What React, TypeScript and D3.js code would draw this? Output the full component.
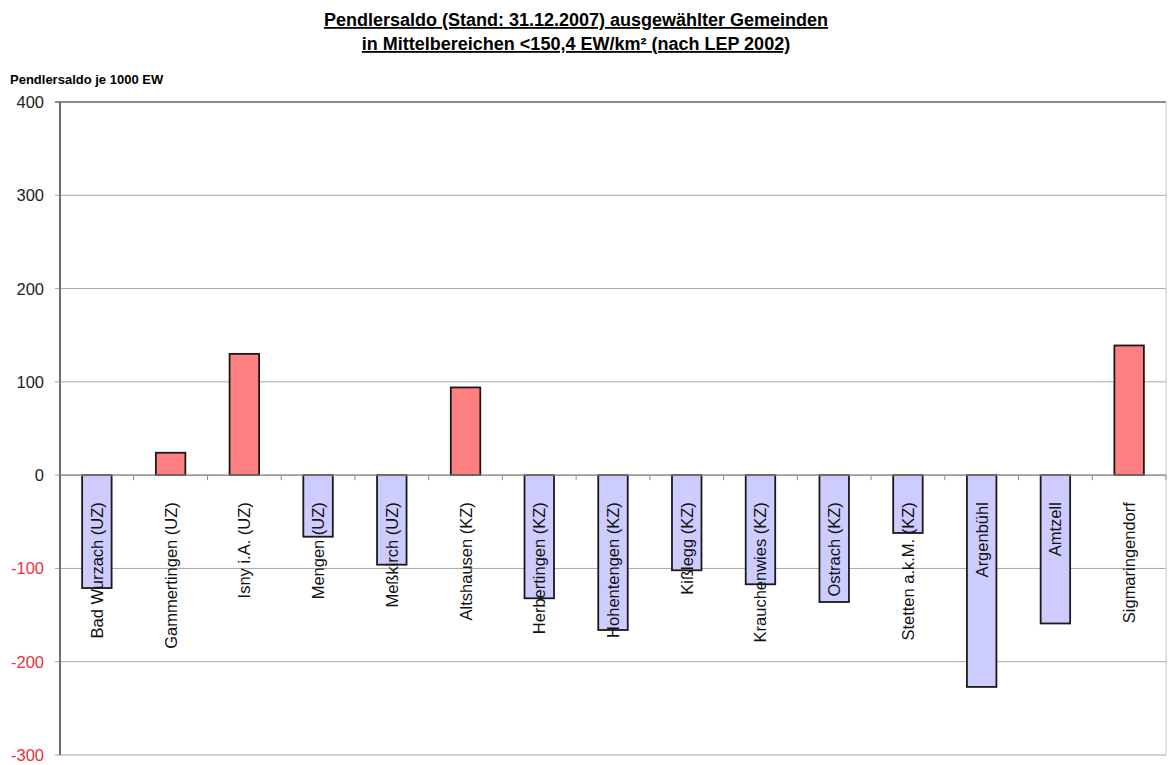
import React from "react";
import * as d3 from "d3";

const gemeinden = [
  "Bad Wurzach (UZ)",
  "Gammertingen (UZ)",
  "Isny i.A. (UZ)",
  "Mengen (UZ)",
  "Meßkirch (UZ)",
  "Altshausen (KZ)",
  "Herbertingen (KZ)",
  "Hohentengen (KZ)",
  "Kißlegg (KZ)",
  "Krauchenwies (KZ)",
  "Ostrach (KZ)",
  "Stetten a.k.M. (KZ)",
  "Argenbühl",
  "Amtzell",
  "Sigmaringendorf",
];

const pendlersaldo = [-121, 24, 130, -66, -96, 94, -132, -166, -102, -117, -136, -62, -227, -159, 139];

const yTicks = [400, 300, 200, 100, 0, -100, -200, -300];

const W = 1169;
const H = 765;
const plot = { left: 60, right: 1166, top: 102, bottom: 755 };
const font = "Arial, 'Liberation Sans', Helvetica, sans-serif";

export default function App() {
  const x = d3
    .scaleBand<string>()
    .domain(gemeinden)
    .range([plot.left, plot.right])
    .paddingInner(0.6)
    .paddingOuter(0.3);
  const step = x.step();
  const y = d3.scaleLinear().domain([-300, 400]).range([plot.bottom, plot.top]);
  const y0 = y(0);

  return (
    <svg
      width={W}
      height={H}
      style={{ position: "absolute", left: 0, top: 0, background: "#fff" }}
      fontFamily={font}
    >
      {/* title */}
      <g fontWeight="bold" fontSize={18} textAnchor="middle" textDecoration="underline">
        <text x={576} y={26}>Pendlersaldo (Stand: 31.12.2007) ausgewählter Gemeinden</text>
        <text x={576} y={50}>in Mittelbereichen &lt;150,4 EW/km² (nach LEP 2002)</text>
      </g>
      <text x={10} y={84} fontSize={13} fontWeight="bold">
        Pendlersaldo je 1000 EW
      </text>

      {/* gridlines */}
      {yTicks.map((t) => (
        <line
          key={"g" + t}
          x1={plot.left - 5}
          x2={plot.right}
          y1={y(t)}
          y2={y(t)}
          stroke={t === 400 ? "#8c8c8c" : "#a8a8a8"}
          strokeWidth={t === 400 ? 2 : 1}
        />
      ))}
      <line x1={plot.right} x2={plot.right} y1={plot.top} y2={plot.bottom} stroke="#c8c8c8" strokeWidth={1} />

      {/* y tick labels */}
      {yTicks.map((t) => (
        <text
          key={"t" + t}
          x={44}
          y={y(t) + 6}
          textAnchor="end"
          fontSize={16.5}
          fill={t < 0 ? "#e8323c" : "#222"}
        >
          {t}
        </text>
      ))}

      {/* bars */}
      {gemeinden.map((g, i) => {
        const v = pendlersaldo[i];
        return (
          <rect
            key={g}
            x={x(g)}
            width={x.bandwidth()}
            y={Math.min(y(v), y0)}
            height={Math.abs(y(v) - y0)}
            fill={v >= 0 ? "#ff8080" : "#ccccff"}
            stroke="#1a1a1a"
            strokeWidth={1.8}
          />
        );
      })}

      {/* zero axis and category ticks */}
      <line x1={plot.left} x2={plot.right} y1={y0} y2={y0} stroke="#8c8c8c" strokeWidth={1.2} />
      {d3.range(gemeinden.length + 1).map((k) => (
        <line
          key={"xt" + k}
          x1={plot.left + k * step}
          x2={plot.left + k * step}
          y1={y0}
          y2={y0 + 5}
          stroke="#8c8c8c"
          strokeWidth={1}
        />
      ))}
      <line x1={plot.left} x2={plot.left} y1={plot.top} y2={plot.bottom} stroke="#6e6e6e" strokeWidth={2} />

      {/* category labels */}
      {gemeinden.map((g) => {
        const cx = (x(g) ?? 0) + x.bandwidth() / 2;
        const ty = y0 + 27;
        return (
          <text
            key={"l" + g}
            transform={`translate(${cx + 6},${ty}) rotate(-90)`}
            textAnchor="end"
            fontSize={16.5}
            fill="#111"
          >
            {g}
          </text>
        );
      })}
    </svg>
  );
}
